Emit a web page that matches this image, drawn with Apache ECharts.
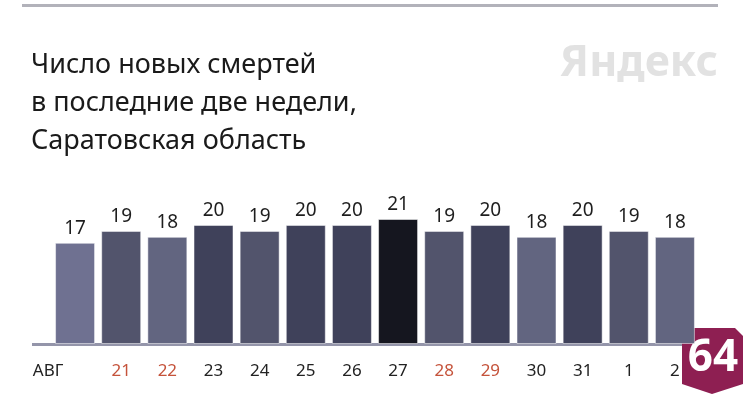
<!DOCTYPE html>
<html>
<head>
<meta charset="utf-8">
<script src="https://cdn.jsdelivr.net/npm/echarts@6/dist/echarts.min.js"></script>
<style>
html, body { margin: 0; padding: 0; background: #fff; }
#chart { width: 750px; height: 400px; }
</style>
</head>
<body>
<div id="chart"></div>
<script>
// даты (первая подпись — месяц), выходные подсвечены красным
var days = ['АВГ', '21', '22', '23', '24', '25', '26', '27', '28', '29', '30', '31', '1', '2'];
var weekend = ['21', '22', '28', '29'];
var deaths = [17, 19, 18, 20, 19, 20, 20, 21, 19, 20, 18, 20, 19, 18];
var titleLines = ['Число новых смертей', 'в последние две недели,', 'Саратовская область'];

// чем больше значение, тем темнее столбик
var shade = { 17: '#6f7191', 18: '#626580', 19: '#52546c', 20: '#3f415a', 21: '#15161f' };

var chart = echarts.init(document.getElementById('chart'));
var font = 'Noto Sans';

var option = {
  backgroundColor: '#fff',
  animation: false,
  textStyle: { fontFamily: font },
  grid: { left: 52, right: 52, top: 219, bottom: 56 },
  xAxis: {
    type: 'category',
    data: days,
    axisLine: { show: false },
    axisTick: { show: false },
    axisLabel: {
      interval: 0,
      margin: 19,
      fontSize: 17,
      fontFamily: font,
      color: '#222',
      formatter: function (v, i) {
        if (i === 0) return '{m|' + v + '}';
        if (weekend.indexOf(v) >= 0) return '{r|' + v + '}';
        return v;
      },
      rich: {
        m: { fontSize: 17, fontFamily: font, color: '#222', padding: [0, 54, 0, 0] },
        r: { fontSize: 17, fontFamily: font, color: '#c5533b' }
      }
    }
  },
  yAxis: {
    type: 'value',
    min: 0,
    max: 21,
    show: false
  },
  series: [{
    type: 'bar',
    data: deaths,
    barWidth: 40,
    itemStyle: {
      color: function (p) { return shade[p.value]; },
      borderColor: 'rgba(255,255,255,0.5)',
      borderWidth: 1
    },
    label: {
      show: true,
      position: 'top',
      distance: 5,
      fontSize: 19,
      fontFamily: font,
      color: '#1e1e1e'
    }
  }],
  graphic: [
    // верхняя линия
    { type: 'rect', shape: { x: 22, y: 4, width: 696, height: 3 }, style: { fill: '#b2b2ba' } },
    // ось X
    { type: 'rect', shape: { x: 32, y: 343, width: 686, height: 3 }, style: { fill: '#9495aa' } },
    // водяной знак
    { type: 'text', right: 32, top: 42, style: { text: 'Яндекс', fontSize: 43, fontWeight: 'bold', fontFamily: font, fill: '#e2e2e2' } },
    // заголовок
    { type: 'text', left: 31, top: 46, style: { text: titleLines.join('\n'), fontSize: 27, lineHeight: 38, fontFamily: font, fill: '#1a1a1a' } },
    // значок региона
    {
      type: 'polygon',
      shape: { points: [[690, 328], [735, 328], [743, 336], [743, 384], [712, 394], [682, 384], [682, 336]] },
      style: { fill: '#8e1f52' }
    },
    { type: 'text', x: 713, y: 358, style: { text: '64', fontSize: 44, fontWeight: 'bold', fontFamily: font, fill: '#fff', align: 'center', verticalAlign: 'middle' } }
  ]
};
chart.setOption(option);
</script>
</body>
</html>
